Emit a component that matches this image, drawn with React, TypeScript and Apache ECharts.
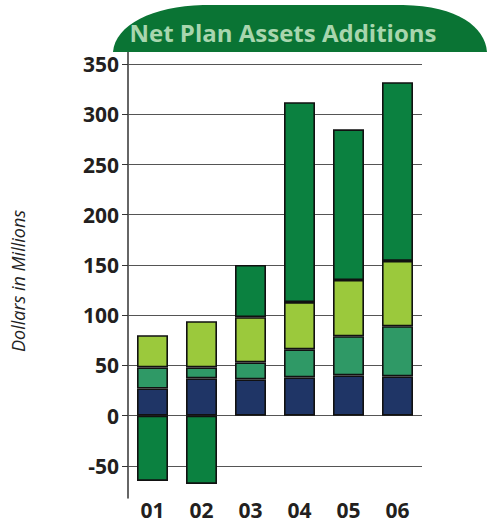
import React, { useEffect, useRef } from "react";
import * as echarts from "echarts";

const categories = ["01", "02", "03", "04", "05", "06"];
const navySeries = [27, 37, 36, 38, 40, 39];
const tealSeries = [21, 11, 17, 28, 39, 50];
const lightGreenSeries = [32, 46, 45, 47, 56, 65];
const darkGreenSeries = [-65, -68, 52, 199, 150, 178];
const gridValues = [-50, 0, 50, 100, 150, 200, 250, 300, 350];
const titleText = "Net Plan Assets Additions";
const yAxisTitle = "Dollars in Millions";

const bannerPath = "M0 47 C2 20 40 1 90 0 L290 0 C345 1 372 22 374 47 Z";

echarts.graphic.registerShape(
  "banner",
  (echarts.graphic as any).extendPath(bannerPath, {})
);

export default function App() {
  const ref = useRef<HTMLDivElement>(null);
  useEffect(() => {
    if (!ref.current) return;
    const chart = echarts.init(ref.current, null, { renderer: "svg" });
    const border = { borderColor: "#111", borderWidth: 1.6 };
    const mk = (name: string, data: number[], color: string) => ({
      name,
      type: "bar",
      stack: "total",
      barWidth: 31,
      data,
      itemStyle: { color, ...border },
    });
    const first: any = mk("navy", navySeries, "#1f3566");
    first.markLine = {
      silent: true,
      symbol: "none",
      z: 1,
      label: { show: false },
      lineStyle: { color: "#555", width: 1, type: "solid" },
      data: gridValues.map((v) => ({ yAxis: v })),
    };
    chart.setOption({
      animation: false,
      grid: { left: 128, right: 68, top: 52, bottom: 31, containLabel: false },
      xAxis: {
        type: "category",
        data: categories,
        axisLine: { show: false },
        axisTick: { show: false },
        axisLabel: {
          margin: 1,
          fontFamily: "Open Sans",
          fontWeight: "bold",
          fontSize: 21,
          color: "#231f20",
        },
      },
      yAxis: {
        type: "value",
        min: -82,
        max: 362,
        axisLine: { show: true, lineStyle: { color: "#333", width: 1.5 } },
        axisTick: {
          show: true,
          length: 6,
          customValues: gridValues,
          lineStyle: { color: "#333" },
        },
        axisLabel: {
          customValues: gridValues,
          margin: 9,
          fontFamily: "Open Sans",
          fontWeight: "bold",
          fontSize: 21,
          color: "#231f20",
        },
        splitLine: { show: false },
      },
      series: [
        first,
        mk("teal", tealSeries, "#2f9966"),
        mk("light", lightGreenSeries, "#9bc93c"),
        mk("dark", darkGreenSeries, "#0b8140"),
      ],
      graphic: [
        {
          type: "banner",
          x: 113,
          y: 5,
          style: { fill: "#0a7434" },
          z: 10,
        },
        {
          type: "text",
          x: 283,
          y: 32,
          z: 11,
          style: {
            text: titleText,
            fill: "#a8d6ae",
            font: "bold 24px 'Open Sans'",
            textAlign: "center",
            textVerticalAlign: "middle",
          },
        },
        {
          type: "text",
          x: 18,
          y: 281,
          rotation: Math.PI / 2,
          style: {
            text: yAxisTitle,
            fill: "#222",
            font: "italic 18px 'Open Sans'",
            textAlign: "center",
            textVerticalAlign: "middle",
          },
        },
      ],
    });
    return () => chart.dispose();
  }, []);
  return <div ref={ref} style={{ width: 490, height: 529, position: "absolute", left: 0, top: 0 }} />;
}
